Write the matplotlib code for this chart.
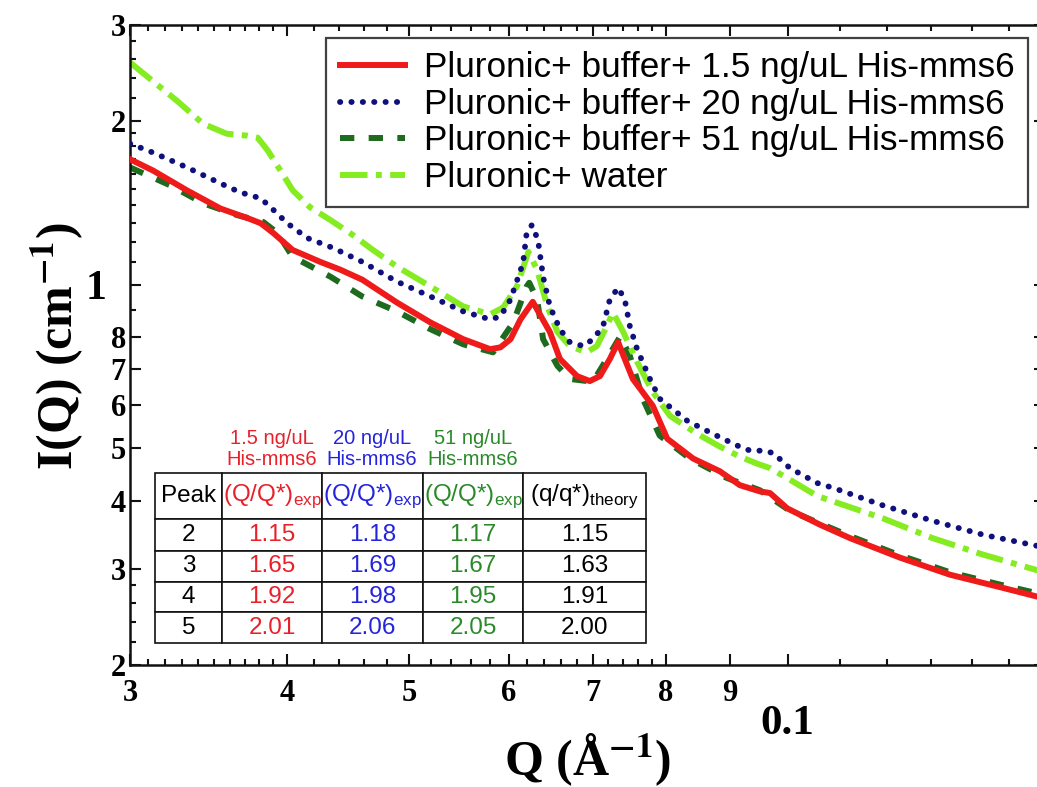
import matplotlib
matplotlib.use('Agg')
import matplotlib.pyplot as plt
from matplotlib.ticker import FixedLocator, FixedFormatter, NullFormatter
from matplotlib.lines import Line2D

# ---- data ----
red_q = [0.0300, 0.0313, 0.0333, 0.0354, 0.0372, 0.0381, 0.0390, 0.0404, 0.0425, 0.0441,
         0.0459, 0.0489, 0.0520, 0.0552, 0.0580, 0.0591, 0.0602, 0.0613, 0.0627, 0.0647,
         0.0659, 0.0680, 0.0696, 0.0709, 0.0722, 0.0733, 0.0742, 0.0753, 0.0781, 0.0802,
         0.0841, 0.0883, 0.0916, 0.0950, 0.0968, 0.0999, 0.1061, 0.1121, 0.1228, 0.1346,
         0.1475, 0.1600]
red_i = [1.70, 1.62, 1.49, 1.38, 1.325, 1.297, 1.244, 1.158, 1.101, 1.065,
         1.021, 0.927, 0.852, 0.794, 0.761, 0.767, 0.794, 0.863, 0.93, 0.818,
         0.730, 0.679, 0.665, 0.679, 0.730, 0.784, 0.730, 0.671, 0.599, 0.521,
         0.479, 0.454, 0.428, 0.417, 0.414, 0.388, 0.362, 0.342, 0.315, 0.293,
         0.278, 0.265]

blue_q = [0.0300, 0.0313, 0.0333, 0.0354, 0.0367, 0.0381, 0.0388, 0.0400, 0.0415, 0.0435,
          0.0459, 0.0489, 0.0520, 0.0552, 0.0580, 0.0591, 0.0602, 0.0616, 0.0620, 0.0626,
          0.0633, 0.0639, 0.0647, 0.0659, 0.0671, 0.0688, 0.0700, 0.0713, 0.0722, 0.0733,
          0.0742, 0.0749, 0.0759, 0.0777, 0.0791, 0.0806, 0.0832, 0.0862, 0.0888, 0.0922,
          0.0938, 0.0956, 0.0974, 0.1004, 0.1055, 0.1087, 0.1190, 0.1304, 0.1430, 0.1600]
blue_i = [1.816, 1.748, 1.642, 1.535, 1.478, 1.441, 1.388, 1.297, 1.218, 1.168,
          1.101, 1.013, 0.951, 0.893, 0.863, 0.874, 0.939, 1.097, 1.244, 1.287,
          1.208, 1.034, 0.912, 0.828, 0.784, 0.771, 0.794, 0.838, 0.939, 0.987,
          0.939, 0.838, 0.761, 0.671, 0.617, 0.596, 0.562, 0.539, 0.521, 0.500,
          0.494, 0.496, 0.490, 0.460, 0.432, 0.423, 0.393, 0.368, 0.347, 0.329]

dg_q = [0.0300, 0.0323, 0.0343, 0.0365, 0.0383, 0.0393, 0.0404, 0.0433, 0.0459, 0.0489,
        0.0520, 0.0552, 0.0583, 0.0605, 0.0620, 0.0623, 0.0632, 0.0639, 0.0656, 0.0671,
        0.0700, 0.0718, 0.0736, 0.0749, 0.0767, 0.0791, 0.0836, 0.0895, 0.0950, 0.1004,
        0.1121, 0.1228, 0.1346, 0.1475, 0.1600]
dg_i = [1.642, 1.522, 1.411, 1.342, 1.303, 1.244, 1.125, 1.034, 0.951, 0.893,
        0.828, 0.777, 0.751, 0.852, 0.992, 1.008, 0.939, 0.794, 0.709, 0.671,
        0.663, 0.730, 0.804, 0.739, 0.617, 0.528, 0.479, 0.441, 0.419, 0.384,
        0.345, 0.318, 0.296, 0.281, 0.269]

lg_q = [0.0300, 0.0327, 0.0343, 0.0358, 0.0372, 0.0379, 0.0386, 0.0395, 0.0404, 0.0417,
        0.0433, 0.0451, 0.0468, 0.0489, 0.0520, 0.0552, 0.0580, 0.0594, 0.0609, 0.0622,
        0.0632, 0.0644, 0.0656, 0.0671, 0.0692, 0.0705, 0.0718, 0.0726, 0.0740, 0.0759,
        0.0781, 0.0806, 0.0847, 0.0883, 0.0916, 0.0945, 0.0968, 0.0999, 0.1055, 0.1190,
        0.1304, 0.1430, 0.1600]
lg_i = [2.56, 2.176, 1.975, 1.894, 1.878, 1.862, 1.764, 1.622, 1.491, 1.388,
        1.314, 1.234, 1.158, 1.079, 0.992, 0.912, 0.882, 0.908, 0.992, 1.149,
        1.065, 0.912, 0.818, 0.771, 0.751, 0.771, 0.838, 0.889, 0.818, 0.721,
        0.635, 0.574, 0.532, 0.504, 0.483, 0.469, 0.460, 0.441, 0.409, 0.372,
        0.342, 0.319, 0.296]

labels = ['Pluronic+ buffer+ 1.5 ng/uL His-mms6',
          'Pluronic+ buffer+ 20 ng/uL His-mms6',
          'Pluronic+ buffer+ 51 ng/uL His-mms6',
          'Pluronic+ water']

table_cols = ['Peak', '(Q/Q*)$_{\\mathregular{exp}}$', '(Q/Q*)$_{\\mathregular{exp}}$',
              '(Q/Q*)$_{\\mathregular{exp}}$', '(q/q*)$_{\\mathregular{theory}}$']
peaks = ['2', '3', '4', '5']
ratio_15 = ['1.15', '1.65', '1.92', '2.01']
ratio_20 = ['1.18', '1.69', '1.98', '2.06']
ratio_51 = ['1.17', '1.67', '1.95', '2.05']
ratio_theory = ['1.15', '1.63', '1.91', '2.00']
conc_labels = ['1.5 ng/uL\nHis-mms6', '20 ng/uL\nHis-mms6', '51 ng/uL\nHis-mms6']

RED = '#ef1a1a'
BLUE = '#10107c'
DGREEN = '#1e6a1e'
LGREEN = '#86ec22'
TRED = '#e8202a'
TBLUE = '#2424dc'
TGREEN = '#2a8a2a'

serif = 'Liberation Serif'
sans = 'Liberation Sans'

W, H = 1037, 787
fig = plt.figure(figsize=(W / 100, H / 100), dpi=100)
ax = fig.add_axes([130 / W, (H - 665) / H, 914.6 / W, 640 / H])
ax.set_xscale('log')
ax.set_yscale('log')

DG_LS = (0, (2.4, 2.4))
LG_LS = (0, (4.6, 1.4, 1.0, 1.4))
DOT_LS = (0, (0.05, 1.9))

ax.plot(dg_q, dg_i, color=DGREEN, lw=4.3, ls=DG_LS, zorder=2)
ax.plot(lg_q, lg_i, color=LGREEN, lw=4.3, ls=LG_LS, zorder=2.5)
ax.plot(red_q, red_i, color=RED, lw=4.3, zorder=3)
ax.plot(blue_q, blue_i, color=BLUE, lw=4.2, ls=DOT_LS, dash_capstyle='round', zorder=4)

ax.set_xlim(0.03, 0.16)
ax.set_ylim(0.2, 3.0)

# ticks
x_major = [0.03, 0.04, 0.05, 0.06, 0.07, 0.08, 0.09, 0.1]
x_major_lab = ['3', '4', '5', '6', '7', '8', '9', '0.1']
x_minor = [0.031, 0.032, 0.033, 0.034, 0.035, 0.036, 0.037, 0.038, 0.039,
           0.042, 0.044, 0.046, 0.048, 0.052, 0.054, 0.056, 0.058,
           0.062, 0.064, 0.066, 0.068, 0.072, 0.074, 0.076, 0.078,
           0.11, 0.12, 0.13, 0.14, 0.15]
y_major = [0.2, 0.3, 0.4, 0.5, 0.6, 0.7, 0.8, 1.0, 2.0, 3.0]
y_major_lab = ['2', '3', '4', '5', '6', '7', '8', '1', '2', '3']
y_minor = [0.22, 0.24, 0.26, 0.28, 0.9, 1.1, 1.2, 1.3, 1.4, 1.5, 1.6, 1.7, 1.8, 1.9,
           2.2, 2.4, 2.6, 2.8]

ax.xaxis.set_major_locator(FixedLocator(x_major))
ax.xaxis.set_major_formatter(FixedFormatter(x_major_lab))
ax.xaxis.set_minor_locator(FixedLocator(x_minor))
ax.xaxis.set_minor_formatter(NullFormatter())
ax.yaxis.set_major_locator(FixedLocator(y_major))
ax.yaxis.set_major_formatter(FixedFormatter(y_major_lab))
ax.yaxis.set_minor_locator(FixedLocator(y_minor))
ax.yaxis.set_minor_formatter(NullFormatter())

ax.tick_params(which='both', direction='in', top=True, right=True, width=1.5, color='#111111')
ax.tick_params(which='major', length=8)
ax.tick_params(which='minor', length=4.5)
ax.tick_params(axis='x', which='major', pad=10)
ax.tick_params(axis='y', which='major', pad=3)

for lab in ax.get_xticklabels() + ax.get_yticklabels():
    lab.set_fontfamily(serif)
    lab.set_fontweight('bold')
    lab.set_fontsize(22)

for t, v in zip(ax.xaxis.get_major_ticks(), x_major):
    if v == 0.1:
        t.tick1line.set_markersize(15)
        t.tick2line.set_markersize(15)
        t.label1.set_fontsize(31)
        t.set_pad(29)
for t, v in zip(ax.yaxis.get_major_ticks(), y_major):
    if v == 1.0:
        t.tick1line.set_markersize(15)
        t.tick2line.set_markersize(15)
        t.label1.set_fontsize(30)
        t.set_pad(17)

for s in ax.spines.values():
    s.set_linewidth(1.8)
    s.set_color('#111111')

# axis labels
fig.text(57 / W, 1 - 346 / H, 'I(Q) (cm$^{\\mathbf{-1}}$)', rotation=90, ha='center', va='center',
         fontsize=36, fontweight='bold', family=serif, math_fontfamily='stix')
fig.text(588 / W, 1 - 760 / H, 'Q (Å$^{\\mathbf{-1}}$)', ha='center', va='center',
         fontsize=36, fontweight='bold', family=serif, math_fontfamily='stix')

# legend
handles = [Line2D([], [], color=RED, lw=4.3),
           Line2D([], [], color=BLUE, lw=4.2, ls=DOT_LS, dash_capstyle='round'),
           Line2D([], [], color=DGREEN, lw=4.3, ls=DG_LS),
           Line2D([], [], color=LGREEN, lw=4.3, ls=LG_LS)]
leg = ax.legend(handles, labels, loc='upper right', bbox_to_anchor=((1028 - 130) / 914.6, (665 - 38) / 640),
                borderaxespad=0, prop={'family': sans, 'size': 25.3}, frameon=True, fancybox=False,
                handlelength=1.85, handletextpad=0.55, labelspacing=0.1, borderpad=0.38)
leg.get_frame().set_edgecolor('#111111')
leg.get_frame().set_linewidth(1.6)
leg.set_zorder(6)

# table
rows = [table_cols] + [[peaks[k], ratio_15[k], ratio_20[k], ratio_51[k], ratio_theory[k]]
                       for k in range(len(peaks))]
col_colors = ['black', TRED, TBLUE, TGREEN, 'black']
col_w = [67, 100, 101, 100, 123]
x0 = (155 - 130) / 914.6
y0 = (665 - 643) / 640
tw = sum(col_w) / 914.6
th = (643 - 473) / 640
tab = ax.table(cellText=rows, cellLoc='center', colWidths=[c / sum(col_w) for c in col_w],
               bbox=[x0, y0, tw, th], zorder=5)
tab.auto_set_font_size(False)
tab.set_fontsize(17)
row_h = [46, 32, 31, 30, 31]
for (r, c), cell in tab.get_celld().items():
    cell.set_height(row_h[r])
    cell.set_linewidth(1.2)
    cell.set_edgecolor('#111111')
    cell.set_facecolor('white')
    txt = cell.get_text()
    txt.set_color(col_colors[c])
    txt.set_fontfamily(sans)
    txt.set_fontsize(17.5)

col_centers = [272, 372, 473]
for cx, lab, colr in zip(col_centers, conc_labels, [TRED, TBLUE, TGREEN]):
    ax.text((cx - 130) / 914.6, (665 - 449) / 640, lab, transform=ax.transAxes, ha='center',
            va='center', color=colr, fontsize=14.5, family=sans, linespacing=1.1)

fig.savefig('out.png', dpi=100)
